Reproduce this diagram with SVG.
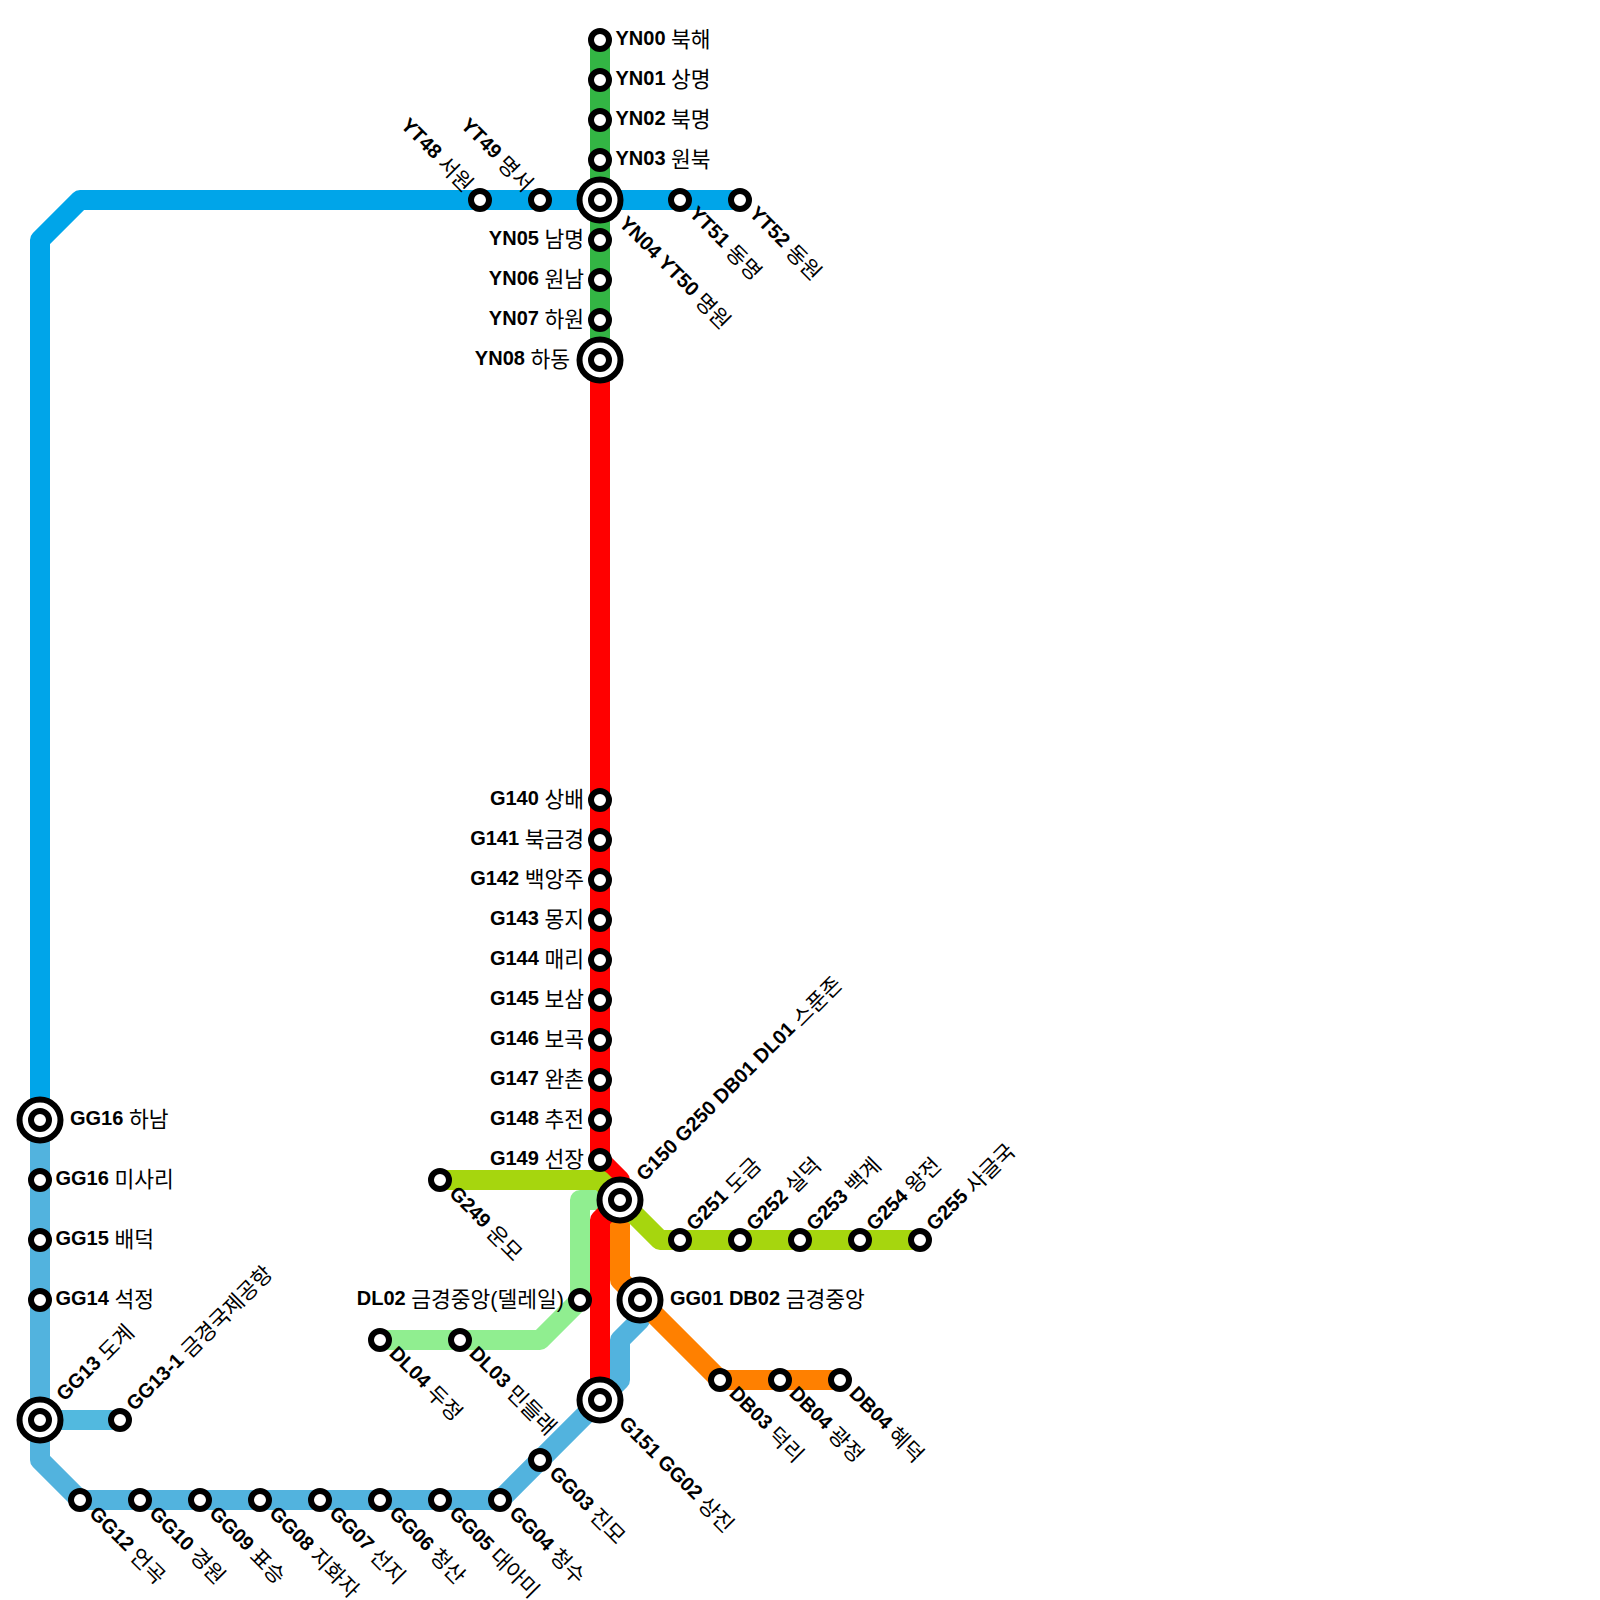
<svg xmlns="http://www.w3.org/2000/svg" width="1600" height="1600" viewBox="0 0 1600 1600">
<style>
.l{fill:none;stroke-width:20;stroke-linejoin:round;stroke-linecap:butt}
.s{fill:#fff;stroke:#000;stroke-width:6}
text{font-family:"Liberation Sans","Noto Sans CJK KR",sans-serif;font-size:20px;fill:#000}
.e{text-anchor:end}
.b{font-weight:bold}
.k{font-size:21.5px}
</style>
<rect width="1600" height="1600" fill="#fff"/>
<g id="connectors">
<path class="l" stroke="#90ee90" d="M620 1200H580V1300L540 1340H380"/>
<path class="l" stroke="#33b544" d="M600 40V360"/>
<path class="l" stroke="#00a5e9" d="M740 200H80L40 240V1120"/>
<path class="l" stroke="#52b3de" d="M40 1120V1460L80 1500H500L600 1400L620 1380V1340L640 1320V1300"/>
<path class="l" stroke="#52b9df" d="M40 1420H120"/>
<path class="l" stroke="#ff8000" d="M620 1200V1280L720 1380H840"/>
<path class="l" stroke="#ff0000" d="M600 360V1160L620 1180V1200L600 1220V1400"/>
<path class="l" stroke="#a6d60e" d="M440 1180H600L660 1240H920"/>
</g>
<g id="YN00"><circle class="s" cx="600" cy="40" r="9"/><text x="615.5" y="44.5"><tspan class="b">YN00</tspan> <tspan class="k" dy="2">북해</tspan></text></g>
<g id="YN01"><circle class="s" cx="600" cy="80" r="9"/><text x="615.5" y="84.5"><tspan class="b">YN01</tspan> <tspan class="k" dy="2">상명</tspan></text></g>
<g id="YN02"><circle class="s" cx="600" cy="120" r="9"/><text x="615.5" y="124.5"><tspan class="b">YN02</tspan> <tspan class="k" dy="2">북명</tspan></text></g>
<g id="YN03"><circle class="s" cx="600" cy="160" r="9"/><text x="615.5" y="164.5"><tspan class="b">YN03</tspan> <tspan class="k" dy="2">원북</tspan></text></g>
<g id="YT48"><circle class="s" cx="480" cy="200" r="9"/><text class="e" x="464" y="204.5" transform="rotate(45 480 200)"><tspan class="b">YT48</tspan> <tspan class="k" dy="2">서원</tspan></text></g>
<g id="YT49"><circle class="s" cx="540" cy="200" r="9"/><text class="e" x="524" y="204.5" transform="rotate(45 540 200)"><tspan class="b">YT49</tspan> <tspan class="k" dy="2">명서</tspan></text></g>
<g id="YN04"><circle class="s" cx="600" cy="200" r="20.5"/><circle class="s" cx="600" cy="200" r="9"/><text x="630" y="204.5" transform="rotate(45 600 200)"><tspan class="b">YN04 YT50</tspan> <tspan class="k" dy="2">명원</tspan></text></g>
<g id="YT51"><circle class="s" cx="680" cy="200" r="9"/><text x="696" y="204.5" transform="rotate(45 680 200)"><tspan class="b">YT51</tspan> <tspan class="k" dy="2">동명</tspan></text></g>
<g id="YT52"><circle class="s" cx="740" cy="200" r="9"/><text x="756" y="204.5" transform="rotate(45 740 200)"><tspan class="b">YT52</tspan> <tspan class="k" dy="2">동원</tspan></text></g>
<g id="YN05"><circle class="s" cx="600" cy="240" r="9"/><text class="e" x="584" y="244.5"><tspan class="b">YN05</tspan> <tspan class="k" dy="2">남명</tspan></text></g>
<g id="YN06"><circle class="s" cx="600" cy="280" r="9"/><text class="e" x="584" y="284.5"><tspan class="b">YN06</tspan> <tspan class="k" dy="2">원남</tspan></text></g>
<g id="YN07"><circle class="s" cx="600" cy="320" r="9"/><text class="e" x="584" y="324.5"><tspan class="b">YN07</tspan> <tspan class="k" dy="2">하원</tspan></text></g>
<g id="YN08"><circle class="s" cx="600" cy="360" r="20.5"/><circle class="s" cx="600" cy="360" r="9"/><text class="e" x="570" y="364.5"><tspan class="b">YN08</tspan> <tspan class="k" dy="2">하동</tspan></text></g>
<g id="G140"><circle class="s" cx="600" cy="800" r="9"/><text class="e" x="584" y="804.5"><tspan class="b">G140</tspan> <tspan class="k" dy="2">상배</tspan></text></g>
<g id="G141"><circle class="s" cx="600" cy="840" r="9"/><text class="e" x="584" y="844.5"><tspan class="b">G141</tspan> <tspan class="k" dy="2">북금경</tspan></text></g>
<g id="G142"><circle class="s" cx="600" cy="880" r="9"/><text class="e" x="584" y="884.5"><tspan class="b">G142</tspan> <tspan class="k" dy="2">백앙주</tspan></text></g>
<g id="G143"><circle class="s" cx="600" cy="920" r="9"/><text class="e" x="584" y="924.5"><tspan class="b">G143</tspan> <tspan class="k" dy="2">몽지</tspan></text></g>
<g id="G144"><circle class="s" cx="600" cy="960" r="9"/><text class="e" x="584" y="964.5"><tspan class="b">G144</tspan> <tspan class="k" dy="2">매리</tspan></text></g>
<g id="G145"><circle class="s" cx="600" cy="1000" r="9"/><text class="e" x="584" y="1004.5"><tspan class="b">G145</tspan> <tspan class="k" dy="2">보삼</tspan></text></g>
<g id="G146"><circle class="s" cx="600" cy="1040" r="9"/><text class="e" x="584" y="1044.5"><tspan class="b">G146</tspan> <tspan class="k" dy="2">보곡</tspan></text></g>
<g id="G147"><circle class="s" cx="600" cy="1080" r="9"/><text class="e" x="584" y="1084.5"><tspan class="b">G147</tspan> <tspan class="k" dy="2">완촌</tspan></text></g>
<g id="G148"><circle class="s" cx="600" cy="1120" r="9"/><text class="e" x="584" y="1124.5"><tspan class="b">G148</tspan> <tspan class="k" dy="2">추전</tspan></text></g>
<g id="G149"><circle class="s" cx="600" cy="1160" r="9"/><text class="e" x="584" y="1164.5"><tspan class="b">G149</tspan> <tspan class="k" dy="2">선장</tspan></text></g>
<g id="G249"><circle class="s" cx="440" cy="1180" r="9"/><text x="456" y="1184.5" transform="rotate(45 440 1180)"><tspan class="b">G249</tspan> <tspan class="k" dy="2">운모</tspan></text></g>
<g id="G150"><circle class="s" cx="620" cy="1200" r="20.5"/><circle class="s" cx="620" cy="1200" r="9"/><text x="650" y="1204.5" transform="rotate(-45 620 1200)"><tspan class="b">G150 G250 DB01 DL01</tspan> <tspan class="k" dy="2">스푼존</tspan></text></g>
<g id="G251"><circle class="s" cx="680" cy="1240" r="9"/><text x="696" y="1244.5" transform="rotate(-45 680 1240)"><tspan class="b">G251</tspan> <tspan class="k" dy="2">도금</tspan></text></g>
<g id="G252"><circle class="s" cx="740" cy="1240" r="9"/><text x="756" y="1244.5" transform="rotate(-45 740 1240)"><tspan class="b">G252</tspan> <tspan class="k" dy="2">실덕</tspan></text></g>
<g id="G253"><circle class="s" cx="800" cy="1240" r="9"/><text x="816" y="1244.5" transform="rotate(-45 800 1240)"><tspan class="b">G253</tspan> <tspan class="k" dy="2">백계</tspan></text></g>
<g id="G254"><circle class="s" cx="860" cy="1240" r="9"/><text x="876" y="1244.5" transform="rotate(-45 860 1240)"><tspan class="b">G254</tspan> <tspan class="k" dy="2">왕전</tspan></text></g>
<g id="G255"><circle class="s" cx="920" cy="1240" r="9"/><text x="936" y="1244.5" transform="rotate(-45 920 1240)"><tspan class="b">G255</tspan> <tspan class="k" dy="2">사글국</tspan></text></g>
<g id="DL02"><circle class="s" cx="580" cy="1300" r="9"/><text class="e" x="564" y="1304.5"><tspan class="b">DL02</tspan> <tspan class="k" dy="2">금경중앙(델레일)</tspan></text></g>
<g id="DL03"><circle class="s" cx="460" cy="1340" r="9"/><text x="476" y="1344.5" transform="rotate(45 460 1340)"><tspan class="b">DL03</tspan> <tspan class="k" dy="2">민들래</tspan></text></g>
<g id="DL04"><circle class="s" cx="380" cy="1340" r="9"/><text x="396" y="1344.5" transform="rotate(45 380 1340)"><tspan class="b">DL04</tspan> <tspan class="k" dy="2">두정</tspan></text></g>
<g id="GG01"><circle class="s" cx="640" cy="1300" r="20.5"/><circle class="s" cx="640" cy="1300" r="9"/><text x="670" y="1304.5"><tspan class="b">GG01 DB02</tspan> <tspan class="k" dy="2">금경중앙</tspan></text></g>
<g id="DB03"><circle class="s" cx="720" cy="1380" r="9"/><text x="736" y="1384.5" transform="rotate(45 720 1380)"><tspan class="b">DB03</tspan> <tspan class="k" dy="2">덕리</tspan></text></g>
<g id="DB04a"><circle class="s" cx="780" cy="1380" r="9"/><text x="796" y="1384.5" transform="rotate(45 780 1380)"><tspan class="b">DB04</tspan> <tspan class="k" dy="2">광정</tspan></text></g>
<g id="DB04b"><circle class="s" cx="840" cy="1380" r="9"/><text x="856" y="1384.5" transform="rotate(45 840 1380)"><tspan class="b">DB04</tspan> <tspan class="k" dy="2">혜덕</tspan></text></g>
<g id="G151"><circle class="s" cx="600" cy="1400" r="20.5"/><circle class="s" cx="600" cy="1400" r="9"/><text x="630" y="1404.5" transform="rotate(45 600 1400)"><tspan class="b">G151 GG02</tspan> <tspan class="k" dy="2">상진</tspan></text></g>
<g id="GG03"><circle class="s" cx="540" cy="1460" r="9"/><text x="556" y="1464.5" transform="rotate(45 540 1460)"><tspan class="b">GG03</tspan> <tspan class="k" dy="2">진모</tspan></text></g>
<g id="GG04"><circle class="s" cx="500" cy="1500" r="9"/><text x="516" y="1504.5" transform="rotate(45 500 1500)"><tspan class="b">GG04</tspan> <tspan class="k" dy="2">청수</tspan></text></g>
<g id="GG05"><circle class="s" cx="440" cy="1500" r="9"/><text x="456" y="1504.5" transform="rotate(45 440 1500)"><tspan class="b">GG05</tspan> <tspan class="k" dy="2">대아미</tspan></text></g>
<g id="GG06"><circle class="s" cx="380" cy="1500" r="9"/><text x="396" y="1504.5" transform="rotate(45 380 1500)"><tspan class="b">GG06</tspan> <tspan class="k" dy="2">청산</tspan></text></g>
<g id="GG07"><circle class="s" cx="320" cy="1500" r="9"/><text x="336" y="1504.5" transform="rotate(45 320 1500)"><tspan class="b">GG07</tspan> <tspan class="k" dy="2">선지</tspan></text></g>
<g id="GG08"><circle class="s" cx="260" cy="1500" r="9"/><text x="276" y="1504.5" transform="rotate(45 260 1500)"><tspan class="b">GG08</tspan> <tspan class="k" dy="2">지화자</tspan></text></g>
<g id="GG09"><circle class="s" cx="200" cy="1500" r="9"/><text x="216" y="1504.5" transform="rotate(45 200 1500)"><tspan class="b">GG09</tspan> <tspan class="k" dy="2">표승</tspan></text></g>
<g id="GG10"><circle class="s" cx="140" cy="1500" r="9"/><text x="156" y="1504.5" transform="rotate(45 140 1500)"><tspan class="b">GG10</tspan> <tspan class="k" dy="2">경원</tspan></text></g>
<g id="GG12"><circle class="s" cx="80" cy="1500" r="9"/><text x="96" y="1504.5" transform="rotate(45 80 1500)"><tspan class="b">GG12</tspan> <tspan class="k" dy="2">언곡</tspan></text></g>
<g id="GG13"><circle class="s" cx="40" cy="1420" r="20.5"/><circle class="s" cx="40" cy="1420" r="9"/><text x="70" y="1424.5" transform="rotate(-45 40 1420)"><tspan class="b">GG13</tspan> <tspan class="k" dy="2">도계</tspan></text></g>
<g id="GG13-1"><circle class="s" cx="120" cy="1420" r="9"/><text x="136" y="1424.5" transform="rotate(-45 120 1420)"><tspan class="b">GG13-1</tspan> <tspan class="k" dy="2">금경국제공항</tspan></text></g>
<g id="GG14"><circle class="s" cx="40" cy="1300" r="9"/><text x="55.5" y="1304.5"><tspan class="b">GG14</tspan> <tspan class="k" dy="2">석정</tspan></text></g>
<g id="GG15"><circle class="s" cx="40" cy="1240" r="9"/><text x="55.5" y="1244.5"><tspan class="b">GG15</tspan> <tspan class="k" dy="2">배덕</tspan></text></g>
<g id="GG16b"><circle class="s" cx="40" cy="1180" r="9"/><text x="55.5" y="1184.5"><tspan class="b">GG16</tspan> <tspan class="k" dy="2">미사리</tspan></text></g>
<g id="GG16a"><circle class="s" cx="40" cy="1120" r="20.5"/><circle class="s" cx="40" cy="1120" r="9"/><text x="70" y="1124.5"><tspan class="b">GG16</tspan> <tspan class="k" dy="2">하남</tspan></text></g>
</svg>
